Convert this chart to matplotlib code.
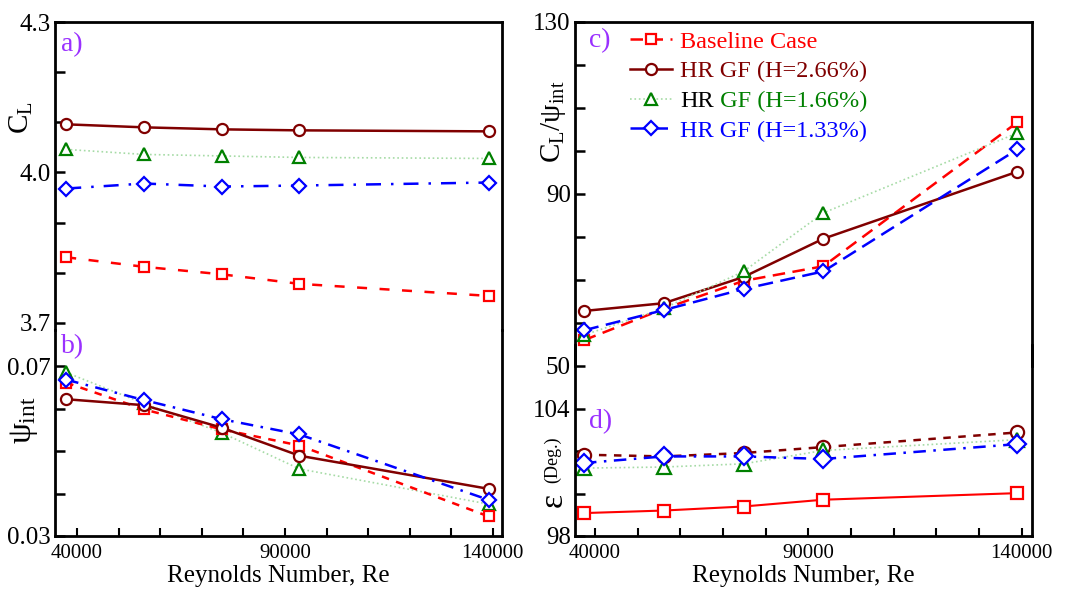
import matplotlib
matplotlib.use('Agg')
import matplotlib.pyplot as plt

plt.rcParams['font.family'] = ['Liberation Serif', 'DejaVu Serif']
plt.rcParams['mathtext.fontset'] = 'custom'
plt.rcParams['mathtext.rm'] = 'Liberation Serif'
plt.rcParams['mathtext.it'] = 'Liberation Serif'
plt.rcParams['mathtext.bf'] = 'Liberation Serif:bold'

# Reynolds numbers
re = [37400, 56100, 74800, 93500, 139000]

# a) lift coefficient
cl_base = [3.831, 3.812, 3.797, 3.778, 3.754]
cl_h266 = [4.096, 4.090, 4.086, 4.084, 4.082]
cl_h166 = [4.046, 4.036, 4.033, 4.030, 4.028]
cl_h133 = [3.968, 3.978, 3.972, 3.974, 3.980]

# b) psi_int
psi_base = [0.0661, 0.0598, 0.0551, 0.0513, 0.0346]
psi_h266 = [0.0622, 0.0608, 0.0555, 0.0489, 0.0411]
psi_h166 = [0.0685, 0.0612, 0.0543, 0.0458, 0.0375]
psi_h133 = [0.0668, 0.0620, 0.0575, 0.0539, 0.0385]

# c) CL / psi_int
rat_base = [56.0, 63.3, 69.8, 73.2, 106.7]
rat_h266 = [62.8, 64.6, 70.7, 79.6, 95.2]
rat_h166 = [57.2, 63.4, 72.0, 85.6, 104.2]
rat_h133 = [58.3, 63.0, 67.9, 72.0, 100.4]

# d) epsilon (deg)
eps_base = [99.08, 99.20, 99.39, 99.71, 100.02]
eps_h266 = [101.83, 101.75, 101.91, 102.19, 102.88]
eps_h166 = [101.20, 101.25, 101.40, 102.03, 102.54]
eps_h133 = [101.44, 101.75, 101.75, 101.63, 102.33]

labels = ['Baseline Case', 'HR GF (H=2.66%)', 'HR', 'HR GF (H=1.33%)']

RED = '#ff0000'
BROWN = '#800000'
GREEN = '#008000'
LGREEN = '#a6dba6'
BLUE = '#0000ff'
PURPLE = '#9a30ff'

fig = plt.figure(figsize=(10.68, 5.94), dpi=100)
W, H = 1068.0, 594.0


def make_ax(left, top, right, bottom):
    return fig.add_axes([left / W, 1 - bottom / H, (right - left) / W, (bottom - top) / H],
                        facecolor='none')


ax_a = make_ax(55, 22, 502, 330)
ax_b = make_ax(55, 330, 502, 536)
ax_c = make_ax(575, 22, 1032, 366)
ax_d = make_ax(575, 345, 1032, 536)


def series(ax, y, color, ls, marker, ms, lw=1.8, mew=1.6, lc=None, label=None):
    ax.plot(re, y, color=lc or color, ls=ls, lw=lw, marker=marker, ms=ms,
            mec=color, mfc='white', mew=mew, label=label)


# panel a
series(ax_a, cl_h166, GREEN, ':', '^', 8, lw=1.2, lc=LGREEN)
series(ax_a, cl_h133, BLUE, (0, (6, 4, 1, 4)), 'D', 7.5)
series(ax_a, cl_base, RED, (0, (4, 5)), 's', 7)
series(ax_a, cl_h266, BROWN, '-', 'o', 8)

# panel b
series(ax_b, psi_h166, GREEN, ':', '^', 8, lw=1.2, lc=LGREEN)
series(ax_b, psi_base, RED, (0, (3, 3)), 's', 7)
series(ax_b, psi_h266, BROWN, '-', 'o', 8)
series(ax_b, psi_h133, BLUE, (0, (5, 3, 1, 3)), 'D', 7.5)

# panel c (with legend)
series(ax_c, rat_base, RED, (0, (5, 3)), 's', 7, label=labels[0])
series(ax_c, rat_h266, BROWN, '-', 'o', 8, label=labels[1])
series(ax_c, rat_h166, GREEN, ':', '^', 8, lw=1.2, lc=LGREEN, label=labels[2])
series(ax_c, rat_h133, BLUE, (0, (6, 3)), 'D', 7.5, label=labels[3])

# panel d
series(ax_d, eps_base, RED, '-', 's', 9, lw=1.5)
series(ax_d, eps_h266, BROWN, (0, (3, 3)), 'o', 9.5)
series(ax_d, eps_h166, GREEN, ':', '^', 10, lw=1.2, lc=LGREEN)
series(ax_d, eps_h133, BLUE, (0, (5, 3, 1, 3)), 'D', 9)

# axes styling
for ax in (ax_a, ax_b):
    ax.set_xlim(34700, 142200)
for ax in (ax_c, ax_d):
    ax.set_xlim(35300, 142400)

ax_a.set_ylim(3.686, 4.3)
ax_b.set_ylim(0.03, 0.0785)
ax_c.set_ylim(50, 130)
ax_d.set_ylim(98, 107.0)

ax_a.set_yticks([4.3, 4.0, 3.7])
ax_a.set_yticks([4.2, 4.1, 3.9, 3.8], minor=True)
ax_b.set_yticks([0.07, 0.03])
ax_b.set_yticks([0.06, 0.05, 0.04], minor=True)
ax_c.set_yticks([130, 90, 50])
ax_c.set_yticks([120, 110, 100, 80, 70, 60], minor=True)
ax_d.set_yticks([104, 98])
ax_d.set_yticks([102, 100], minor=True)
ax_a.set_yticklabels(['4.3', '4.0', '3.7'])
ax_b.set_yticklabels(['0.07', '0.03'])

xmajor = [40000, 90000, 140000]
xminor = [50000, 60000, 70000, 80000, 100000, 110000, 120000, 130000]
for ax in (ax_b, ax_d):
    ax.set_xticks(xmajor)
    ax.set_xticks(xminor, minor=True)
    ax.set_xticklabels([str(v) for v in xmajor])
    ax.set_xlabel('Reynolds Number, Re', fontsize=18, labelpad=1)
for ax in (ax_a, ax_c):
    ax.set_xticks([])
    ax.spines['bottom'].set_visible(False)
for ax in (ax_b, ax_d):
    ax.spines['top'].set_visible(False)

for ax in (ax_a, ax_b, ax_c, ax_d):
    for s in ax.spines.values():
        s.set_linewidth(2.0)
    ax.tick_params(axis='y', which='both', direction='in', length=7, width=1.8,
                   labelsize=18, pad=3, right=False)
    ax.tick_params(axis='x', which='both', direction='in', length=6, width=1.5,
                   labelsize=15, pad=6, top=False)

# y labels
ax_a.set_ylabel(r'$\mathregular{C_L}$', fontsize=21)
ax_a.yaxis.set_label_coords(-0.045, 0.69)
ax_b.set_ylabel(r'$\psi_{\mathregular{int}}$', fontsize=24)
ax_b.yaxis.set_label_coords(-0.034, 0.56)
ax_c.set_ylabel(r'$\mathregular{C_L/}\psi_{\mathregular{int}}$', fontsize=21)
ax_c.yaxis.set_label_coords(-0.016, 0.71)
ax_d.text(-0.047, 0.19, '\u03b5', transform=ax_d.transAxes, rotation=90,
          fontsize=24, ha='center', va='center')
ax_d.text(-0.049, 0.40, '(Deg.)', transform=ax_d.transAxes, rotation=90,
          fontsize=13, ha='center', va='center')

# panel letters
for ax, txt, ypos in ((ax_a, 'a)', 0.925), (ax_b, 'b)', 0.92),
                      (ax_c, 'c)', 0.945), (ax_d, 'd)', 0.60)):
    ax.text(0.013 if ax in (ax_a, ax_b) else 0.03, ypos, txt, transform=ax.transAxes,
            color=PURPLE, fontsize=20, ha='left', va='center')

# legend
leg = ax_c.legend(loc='upper left', bbox_to_anchor=(0.12, 0.975), frameon=False,
                  fontsize=17.5, handlelength=1.75, handletextpad=0.33, labelspacing=0.32,
                  borderpad=0, borderaxespad=0)
leg_colors = [RED, BROWN, 'black', BLUE]
for t, c in zip(leg.get_texts(), leg_colors):
    t.set_color(c)
fig.canvas.draw()
ax_c.annotate(' GF (H=1.66%)', xy=(1, 0), xycoords=leg.get_texts()[2],
              ha='left', va='bottom', fontsize=17.5, color=GREEN)

fig.savefig('out.png', dpi=100)
